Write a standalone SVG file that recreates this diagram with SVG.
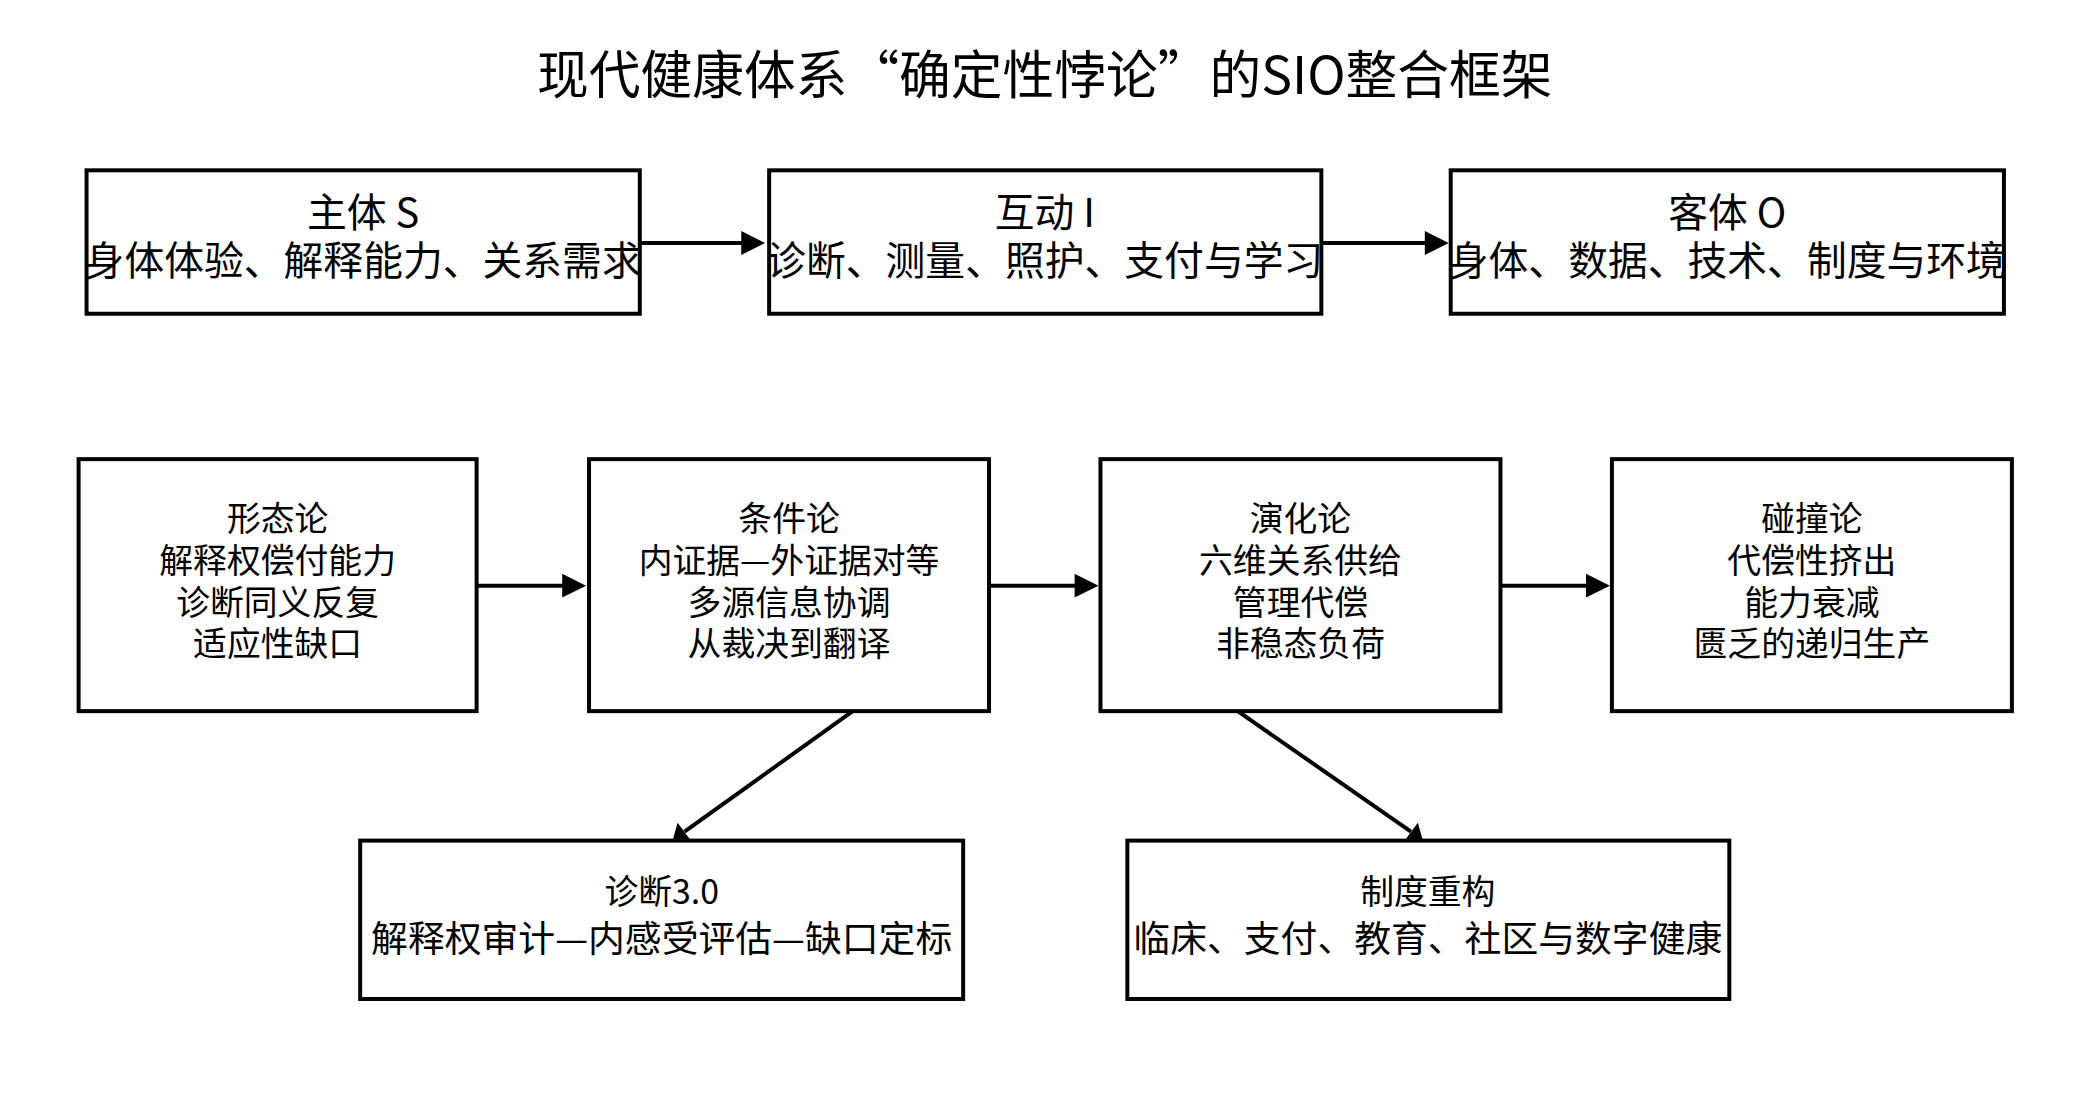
<svg xmlns="http://www.w3.org/2000/svg" width="2089" height="1094" viewBox="0 0 2089 1094">
<defs>
<style>
text{font-family:"Noto Sans CJK SC","Noto Sans",sans-serif;fill:#000;text-anchor:middle}
.b{fill:#fff;stroke:#000;stroke-width:4}
.t{font-size:40px}
.m{font-size:34px}
.w{font-size:37px}
</style>
</defs>
<rect width="2089" height="1094" fill="#fff"/>
<g transform="scale(0.995,0.996)">
<text x="1050" y="94" style="font-size:52px">现代健康体系“确定性悖论”的SIO整合框架</text>
<g id="connectors">
<line x1="643" y1="244" x2="755" y2="244" stroke="#000" stroke-width="4"/><path d="M745,232L769,244L745,256z"/>
<line x1="1328" y1="244" x2="1440" y2="244" stroke="#000" stroke-width="4"/><path d="M1432,232L1456,244L1432,256z"/>
<line x1="479" y1="588" x2="575" y2="588" stroke="#000" stroke-width="4"/><path d="M565,576L589,588L565,600z"/>
<line x1="994" y1="588" x2="1090" y2="588" stroke="#000" stroke-width="4"/><path d="M1080,576L1104,588L1080,600z"/>
<line x1="1508" y1="588" x2="1604" y2="588" stroke="#000" stroke-width="4"/><path d="M1594,576L1618,588L1594,600z"/>
<line x1="857" y1="714" x2="688" y2="835" stroke="#000" stroke-width="4"/><path d="M681,826L676,844L695,845z"/>
<line x1="1244" y1="714" x2="1418" y2="835" stroke="#000" stroke-width="4"/><path d="M1411,845L1430,844L1425,826z"/>
</g>
<g id="s"><rect class="b" x="87" y="171" width="556" height="144"/><text class="t" x="365" y="228">主体 S</text><text class="t" x="365" y="276">身体体验、解释能力、关系需求</text></g>
<g id="i"><rect class="b" x="773" y="171" width="555" height="144"/><text class="t" x="1050" y="228">互动 I</text><text class="t" x="1050" y="276">诊断、测量、照护、支付与学习</text></g>
<g id="o"><rect class="b" x="1458" y="171" width="556" height="144"/><text class="t" x="1736" y="228">客体 O</text><text class="t" x="1736" y="276">身体、数据、技术、制度与环境</text></g>
<g id="n1"><rect class="b" x="79" y="461" width="400" height="253"/><text class="m" x="279" y="533">形态论</text><text class="m" x="279" y="575">解释权偿付能力</text><text class="m" x="279" y="617">诊断同义反复</text><text class="m" x="279" y="659">适应性缺口</text></g>
<g id="n2"><rect class="b" x="592" y="461" width="402" height="253"/><text class="m" x="793" y="533">条件论</text><text class="m" x="793" y="575">内证据—外证据对等</text><text class="m" x="793" y="617">多源信息协调</text><text class="m" x="793" y="659">从裁决到翻译</text></g>
<g id="n3"><rect class="b" x="1106" y="461" width="402" height="253"/><text class="m" x="1307" y="533">演化论</text><text class="m" x="1307" y="575">六维关系供给</text><text class="m" x="1307" y="617">管理代偿</text><text class="m" x="1307" y="659">非稳态负荷</text></g>
<g id="n4"><rect class="b" x="1620" y="461" width="402" height="253"/><text class="m" x="1821" y="533">碰撞论</text><text class="m" x="1821" y="575">代偿性挤出</text><text class="m" x="1821" y="617">能力衰减</text><text class="m" x="1821" y="659">匮乏的递归生产</text></g>
<g id="d3"><rect class="b" x="362" y="844" width="606" height="159"/><text class="m" x="665" y="908">诊断3.0</text><text class="w" x="665" y="956">解释权审计—内感受评估—缺口定标</text></g>
<g id="zd"><rect class="b" x="1133" y="844" width="605" height="159"/><text class="m" x="1435" y="908">制度重构</text><text class="w" x="1435" y="956">临床、支付、教育、社区与数字健康</text></g>
</g>
</svg>
